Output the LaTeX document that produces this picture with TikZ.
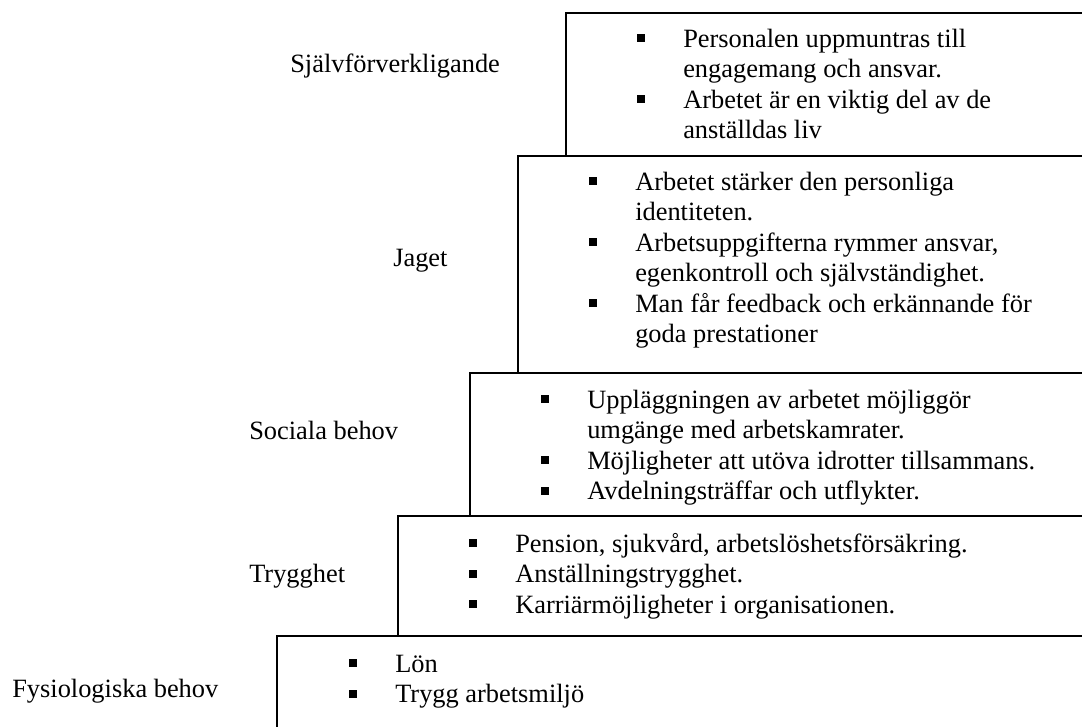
\documentclass[tikz,border=0pt]{standalone}
\usepackage{fontspec}
\setmainfont{Liberation Serif}
\usepackage{tikz}
\usetikzlibrary{positioning}
\newcommand{\punkt}{\rule[3.75pt]{6pt}{6pt}}

\begin{document}
\begin{tikzpicture}[x=0.75pt,y=-0.75pt,font=\fontsize{19.8pt}{22.9pt}\selectfont]
  \tikzstyle{steg}=[draw,line width=1pt]
  \tikzstyle{lista}=[anchor=base west,inner sep=0pt]
  \tikzstyle{niva}=[anchor=base west,inner sep=0pt]
  \useasboundingbox (0,0) rectangle (1082,726);
  \clip (0,0) rectangle (1082,726);
  % trappstegen
  \draw[steg] (566,13) rectangle (1100,156);
  \draw[steg] (518,156) rectangle (1100,373);
  \draw[steg] (470,373) rectangle (1100,516);
  \draw[steg] (398,516) rectangle (1100,636);
  \draw[steg] (277,636) rectangle (1100,760);
  % behovsnivaer
  \node[niva] (sjalv) at (290,72) {Självförverkligande};
  \node[niva] (jag) at (393,266) {Jaget};
  \node[niva] (soc) at (249,439) {Sociala behov};
  \node[niva] (tryg) at (249,582) {Trygghet};
  \node[niva] (fys) at (12,697) {Fysiologiska behov};
  % innehall
  \node[lista] (lsjalv) at (637,47) {\begin{tabular}[t]{@{}p{34.5pt}@{}l@{}}
    \punkt & Personalen uppmuntras till\\
           & engagemang och ansvar.\\
    \punkt & Arbetet är en viktig del av de\\
           & anställdas liv
  \end{tabular}};
  \node[lista] (ljag) at (589,190) {\begin{tabular}[t]{@{}p{34.5pt}@{}l@{}}
    \punkt & Arbetet stärker den personliga\\
           & identiteten.\\
    \punkt & Arbetsuppgifterna rymmer ansvar,\\
           & egenkontroll och självständighet.\\
    \punkt & Man får feedback och erkännande för\\
           & goda prestationer
  \end{tabular}};
  \node[lista] (lsoc) at (541,408) {\begin{tabular}[t]{@{}p{34.5pt}@{}l@{}}
    \punkt & Uppläggningen av arbetet möjliggör\\
           & umgänge med arbetskamrater.\\
    \punkt & Möjligheter att utöva idrotter tillsammans.\\
    \punkt & Avdelningsträffar och utflykter.
  \end{tabular}};
  \node[lista] (ltryg) at (469,552) {\begin{tabular}[t]{@{}p{34.5pt}@{}l@{}}
    \punkt & Pension, sjukvård, arbetslöshetsförsäkring.\\
    \punkt & Anställningstrygghet.\\
    \punkt & Karriärmöjligheter i organisationen.
  \end{tabular}};
  \node[lista] (lfys) at (349,672) {\begin{tabular}[t]{@{}p{34.5pt}@{}l@{}}
    \punkt & Lön\\
    \punkt & Trygg arbetsmiljö
  \end{tabular}};
\end{tikzpicture}
\end{document}
